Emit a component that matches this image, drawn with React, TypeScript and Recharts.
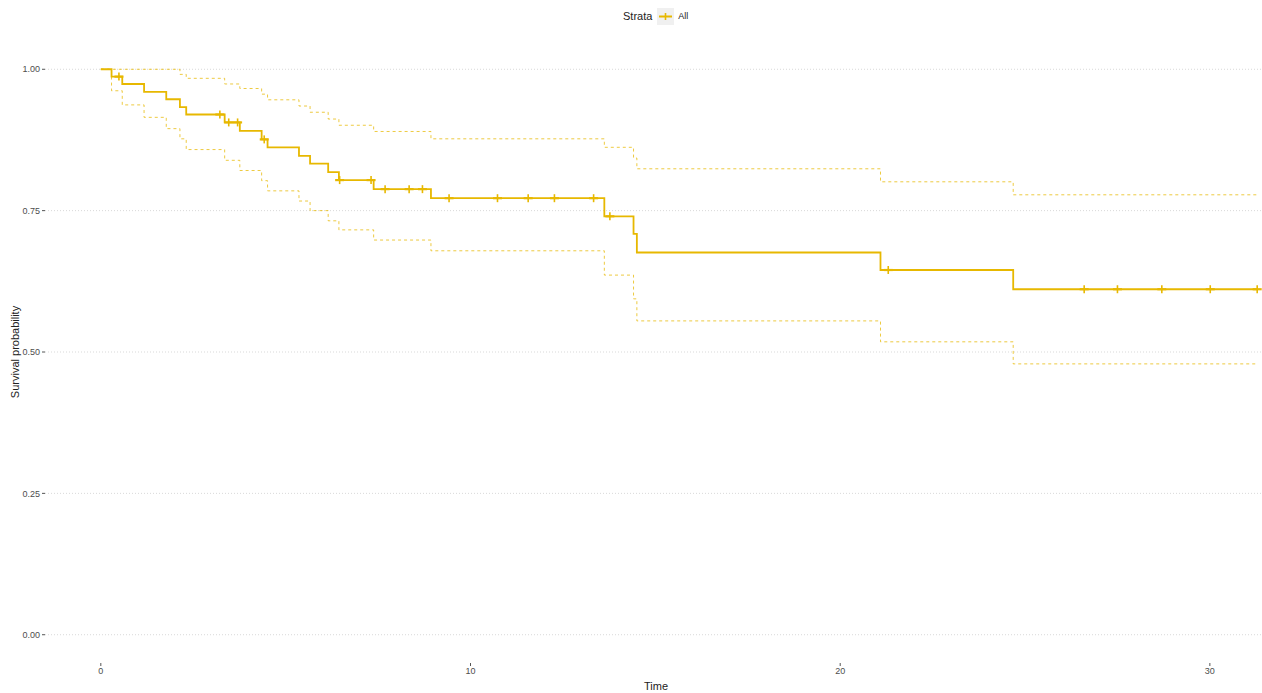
import { ComposedChart, Line, Scatter, XAxis, YAxis, CartesianGrid } from 'recharts';

// Kaplan-Meier estimate
const eventTimes = [0, 0.29, 0.58, 1.17, 1.77, 2.14, 2.31, 3.35, 3.76, 4.35, 4.51, 5.36, 5.66, 6.15, 6.44, 7.38, 8.93, 13.62, 14.41, 14.5, 21.09, 24.68];
const survival = [1, 0.987, 0.974, 0.96, 0.947, 0.933, 0.92, 0.906, 0.891, 0.876, 0.862, 0.847, 0.833, 0.818, 0.804, 0.788, 0.772, 0.74, 0.709, 0.676, 0.645, 0.611];
const upperCI = [1, 1, 1, 1, 1, 0.991, 0.984, 0.974, 0.966, 0.956, 0.946, 0.935, 0.924, 0.912, 0.901, 0.89, 0.877, 0.862, 0.843, 0.824, 0.801, 0.778];
const lowerCI = [1, 0.962, 0.937, 0.915, 0.895, 0.877, 0.858, 0.839, 0.821, 0.803, 0.785, 0.767, 0.75, 0.732, 0.716, 0.698, 0.679, 0.636, 0.594, 0.555, 0.518, 0.479];
const censorTimes = [0.49, 3.22, 3.46, 3.7, 4.42, 6.46, 7.31, 7.69, 8.34, 8.7, 9.42, 10.73, 11.56, 12.27, 13.33, 13.77, 21.3, 26.6, 27.5, 28.7, 30.01, 31.28];
const lastTime = 31.28;

const xTicks = [0, 10, 20, 30];
const yTicks = [0, 0.25, 0.5, 0.75, 1];

const COLOR = '#E7B800';

const survAt = (t: number) => {
  let s = survival[0];
  eventTimes.forEach((et, i) => { if (et <= t) s = survival[i]; });
  return s;
};

const curve = eventTimes.map((t, i) => ({ time: t, surv: survival[i], upper: upperCI[i], lower: lowerCI[i] }));
curve.push({ time: lastTime, surv: survival[survival.length - 1], upper: upperCI[upperCI.length - 1], lower: lowerCI[lowerCI.length - 1] });

const censored = censorTimes.map((t) => ({ time: t, surv: survAt(t) }));

const Plus = (props: any) => {
  const { cx, cy } = props;
  return (
    <g>
      <path d={`M${cx - 4.5},${cy}h9`} stroke={COLOR} strokeWidth={2.2} fill="none" />
      <path d={`M${cx},${cy - 4}v8`} stroke={COLOR} strokeWidth={1.6} fill="none" />
    </g>
  );
};

const tickStyle = { fill: '#4d4d4d', fontSize: 9, fontFamily: 'Liberation Sans, Arial, sans-serif' };
const titleFont = 'Liberation Sans, Arial, sans-serif';

export default function App() {
  return (
    <div style={{ position: 'relative', width: 1262, height: 693, background: '#fff' }}>
      <style>{'body{margin:0}'}</style>
      <div style={{ position: 'absolute', top: 8, left: 623, height: 16, display: 'flex', alignItems: 'center', fontFamily: titleFont, color: '#222' }}>
        <span style={{ fontSize: 11 }}>Strata</span>
        <svg width={17} height={17} style={{ marginLeft: 5 }}>
          <rect x={0} y={0} width={17} height={17} fill="#f0f0f0" />
          <line x1={2} y1={8.5} x2={15} y2={8.5} stroke={COLOR} strokeWidth={2} />
          <line x1={8.5} y1={5} x2={8.5} y2={12} stroke={COLOR} strokeWidth={1.6} />
        </svg>
        <span style={{ fontSize: 9, marginLeft: 4 }}>All</span>
      </div>
      <ComposedChart width={1262} height={693} margin={{ top: 41, right: 0, bottom: 0, left: 0 }}>
        <CartesianGrid vertical={false} syncWithTicks stroke="#d9d9d9" strokeDasharray="1 2" />
        <XAxis
          type="number"
          dataKey="time"
          domain={[-1.51, 31.41]}
          ticks={xTicks}
          allowDataOverflow
          height={30}
          axisLine={false}
          tickSize={3}
          tickLine={{ stroke: '#555' }}
          tick={tickStyle}
          label={{
            content: () => (
              <text x={656} y={687} textAnchor="middle" dominantBaseline="middle" fontSize={11} fill="#222" fontFamily={titleFont}>Time</text>
            ),
          }}
        />
        <YAxis
          type="number"
          domain={[-0.05, 1.05]}
          ticks={yTicks}
          width={45}
          axisLine={false}
          tickSize={3}
          tickLine={{ stroke: '#555' }}
          tick={tickStyle}
          tickFormatter={(v: number) => v.toFixed(2)}
          label={{
            content: () => (
              <text x={16} y={352} transform="rotate(-90 16 352)" textAnchor="middle" dominantBaseline="middle" fontSize={11} fill="#222" fontFamily={titleFont}>Survival probability</text>
            ),
          }}
        />
        <Line data={curve} dataKey="upper" type="stepAfter" stroke={COLOR} strokeOpacity={0.75} strokeWidth={1} strokeDasharray="3 3" dot={false} isAnimationActive={false} />
        <Line data={curve} dataKey="lower" type="stepAfter" stroke={COLOR} strokeOpacity={0.75} strokeWidth={1} strokeDasharray="3 3" dot={false} isAnimationActive={false} />
        <Line data={curve} dataKey="surv" type="stepAfter" stroke={COLOR} strokeWidth={1.8} dot={false} isAnimationActive={false} />
        <Scatter data={censored} dataKey="surv" shape={Plus} isAnimationActive={false} />
      </ComposedChart>
    </div>
  );
}
